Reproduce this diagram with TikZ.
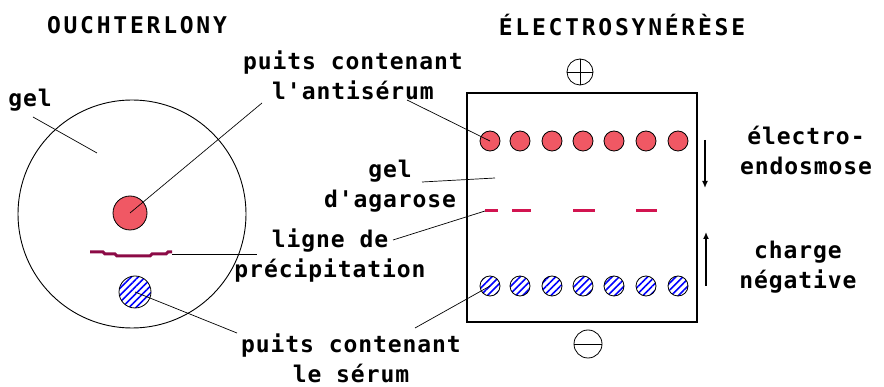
\documentclass[tikz,border=0pt]{standalone}
\usepackage{fontspec}
\newfontfamily\lblfont[LetterSpace=4]{DejaVu Sans Mono Bold}
\newfontfamily\headfont[LetterSpace=12]{DejaVu Sans Mono Bold}
\usetikzlibrary{patterns.meta, arrows.meta}

\definecolor{wellred}{RGB}{240,88,100}
\definecolor{precipred}{RGB}{140,10,70}
\definecolor{dashred}{RGB}{210,20,80}

\tikzset{
    lbl/.style={font=\lblfont\fontsize{23}{30}\selectfont, align=center, inner sep=0pt},
    headtext/.style={font=\headfont\fontsize{23}{26}\selectfont, inner sep=0pt},
    redwell/.style={circle, draw, line width=0.8pt, fill=wellred, minimum size=20pt, inner sep=0pt},
    bluewell/.style={circle, draw, line width=0.8pt,
        pattern={Lines[angle=45, distance=5pt, line width=1.6pt]}, pattern color=blue,
        minimum size=20pt, inner sep=0pt},
    leader/.style={draw, line width=0.7pt},
    flow/.style={draw, line width=1.4pt, -{Latex[length=7pt, width=6pt]}}
}

\begin{document}
\begin{tikzpicture}[x=1pt, y=-1pt]
            \useasboundingbox (0,0) rectangle (884,387);
            % Titles
            \node[headtext] (ouch) at (137,25) {OUCHTERLONY};
            \node[headtext] (elec) at (622,25) {ÉLECTROSYNÉRÈSE};
            % Ouchterlony plate on the left
            \begin{scope}
                \node[draw, circle, line width=0.9pt, minimum size=228pt, inner sep=0pt] (plate) at (132,214) {};
                \node[redwell, minimum size=34pt] (antiw) at (130,213) {};
                \node[bluewell, minimum size=32pt] (serw) at (135,292) {};
                % precipitation arc
                \draw[precipred, line width=3pt] (90,252) -- (103,252) -- (105,254) -- (115,254) -- (117,256)
                    -- (150,256) -- (152,254) -- (166,254) -- (168,252) -- (172,252);
                \coordinate (arcend) at (172,254);
            \end{scope}
            % Electrosyneresis slide on the right
            \begin{scope}
                \draw[line width=1.3pt] (467,93) rectangle (697,322);
                \node[draw, circle, line width=0.8pt, minimum size=26pt, inner sep=0pt] (anode) at (580,72) {};
                \draw[line width=0.8pt] (anode.north) -- (anode.south) (anode.west) -- (anode.east);
                \node[draw, circle, line width=0.8pt, minimum size=28pt, inner sep=0pt] (cathode) at (588,344) {};
                \draw[line width=0.8pt] (cathode.west) -- (cathode.east);
                \foreach \x [count=\i] in {490,520,552,583,614,646,678} {
                    \node[redwell] (r\i) at (\x,141) {};
                    \node[bluewell] (b\i) at (\x,286) {};
                }
                \foreach \a/\b in {485/498, 512/531, 573/595, 636/657}
                    \draw[dashred, line width=3pt] (\a,211) -- (\b,211);
                \coordinate (dash1) at (485,211);
                \coordinate (gelpt) at (495,178);
                % flow arrows
                \coordinate (eotop) at (705,140);
                \coordinate (eobot) at (705,188);
                \coordinate (chbot) at (706,286);
                \coordinate (chtop) at (706,232);
                \draw[flow] (eotop) -- (eobot);
                \draw[flow] (chbot) -- (chtop);
            \end{scope}
            % Labels
            \node[lbl] (gel) at (30,100) {gel};
            \node[lbl] (antiserum) at (353,75) {puits contenant\\l'antisérum};
            \node[lbl] (agarose) at (390,186) {gel\\d'agarose};
            \node[lbl] (precip) at (330,256) {ligne de\\précipitation};
            \node[lbl] (serum) at (351,358) {puits contenant\\le sérum};
            \node[lbl] (endo) at (806,150) {électro-\\endosmose};
            \node[lbl] (charge) at (798,267) {charge\\négative};
            % Leader lines
            \coordinate (gelin) at (97,153);
            \coordinate (gelout) at (33,117);
            \coordinate (asl) at (262,103);
            \coordinate (asr) at (407,100);
            \coordinate (agl) at (422,182);
            \coordinate (pcl) at (257,254);
            \coordinate (pcr) at (393,240);
            \coordinate (sel) at (237,333);
            \coordinate (ser) at (415,328);
            \draw[leader] (gelout) -- (gelin);
            \draw[leader] (asl) -- (antiw.center);
            \draw[leader] (asr) -- (r1.center);
            \draw[leader] (agl) -- (gelpt);
            \draw[leader] (arcend) -- (pcl);
            \draw[leader] (pcr) -- (dash1);
            \draw[leader] (serw.center) -- (sel);
            \draw[leader] (ser) -- (b1.center);
        \end{tikzpicture}
\end{document}
